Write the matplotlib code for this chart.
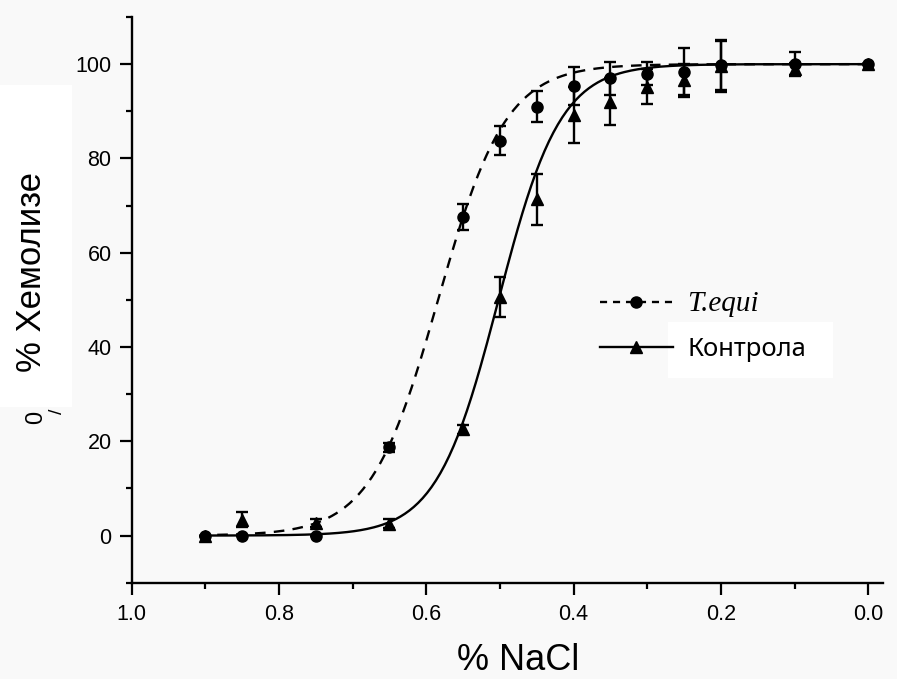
import numpy as np
import matplotlib
matplotlib.use("Agg")
import matplotlib.pyplot as plt
from matplotlib.lines import Line2D
from matplotlib.patches import Rectangle

plt.rcParams['font.family'] = ['Liberation Sans', 'DejaVu Sans']
plt.rcParams['xtick.labelsize'] = 15.5
plt.rcParams['ytick.labelsize'] = 15.5

# концентрация NaCl (%)
nacl = [0.9, 0.85, 0.75, 0.65, 0.55, 0.5, 0.45, 0.4, 0.35, 0.3, 0.25, 0.2, 0.1, 0.0]

# T.equi (кругови)
tequi = [0, 0, 0, 18.7, 67.6, 83.8, 91.0, 95.3, 97.0, 98.0, 98.4, 99.8, 100.0, 100.0]
tequi_err = [0, 0, 0, 1.0, 2.7, 3.0, 3.2, 4.0, 3.5, 2.5, 5.0, 5.2, 2.6, 0]

# Контрола (троуглови)
kontrola = [0, 3.4, 2.7, 2.5, 22.5, 50.6, 71.3, 89.2, 92.0, 95.2, 96.6, 99.6, 99.0, 100.0]
kontrola_err = [0, 1.5, 0.8, 1.0, 1.0, 4.2, 5.5, 6.0, 5.0, 3.7, 3.5, 5.5, 1.3, 0]

# Boltzmann fit parametri (A1, A2, x0, dx)
fit_tequi = (0.0, 100.0, 0.584, 0.046)
fit_kontrola = (0.0, 100.0, 0.502, 0.042)


def boltzmann(x, p):
    a1, a2, x0, dx = p
    return a2 + (a1 - a2) / (1 + np.exp((x0 - x) / dx))


bg = "#f9f9f9"
fig = plt.figure(figsize=(8.97, 6.79), dpi=100, facecolor=bg)
ax = fig.add_axes([131.7 / 897, 1 - 582.7 / 679, (883 - 131.7) / 897, (582.7 - 17) / 679])
ax.set_facecolor("none")
ax.set_zorder(1)

# bela polja (zalepljeni tekstovi)
fig.patches.append(Rectangle((0, 1 - 407 / 679), 72 / 897, 322 / 679,
                             transform=fig.transFigure, facecolor="white", edgecolor="none", zorder=-1))
fig.patches.append(Rectangle((668 / 897, 1 - 378 / 679), 165 / 897, 56 / 679,
                             transform=fig.transFigure, facecolor="white", edgecolor="none", zorder=-1))

xs = np.linspace(0.0, 0.9, 300)
ax.plot(xs, boltzmann(xs, fit_tequi), color="black", lw=1.7, ls=(0, (4.5, 3.5)))
ax.plot(xs, boltzmann(xs, fit_kontrola), color="black", lw=1.7)

ax.errorbar(nacl, tequi, yerr=tequi_err, fmt="o", color="black", ms=8,
            capsize=4.5, capthick=1.7, elinewidth=1.7)
ax.errorbar(nacl, kontrola, yerr=kontrola_err, fmt="^", color="black", ms=8,
            capsize=4.5, capthick=1.7, elinewidth=1.7)

ax.set_xlim(1.0, -0.02)
ax.set_ylim(-10, 110)
ax.set_xticks([1.0, 0.8, 0.6, 0.4, 0.2, 0.0])
ax.set_xticks([0.9, 0.7, 0.5, 0.3, 0.1], minor=True)
ax.set_yticks([0, 20, 40, 60, 80, 100])
ax.set_yticks([-10, 10, 30, 50, 70, 90, 110], minor=True)
ax.set_xticklabels(["1.0", "0.8", "0.6", "0.4", "0.2", "0.0"])

for s in ["top", "right"]:
    ax.spines[s].set_visible(False)
for s in ["left", "bottom"]:
    ax.spines[s].set_linewidth(1.7)

ax.tick_params(which="major", length=8.5, width=1.6, direction="out")
ax.tick_params(which="minor", length=4.5, width=1.6, direction="out")
ax.tick_params(axis="x", which="major", pad=7)
ax.tick_params(axis="y", which="major", pad=6)

fig.text(518 / 897, 1 - 661 / 679, "% NaCl", ha="center", va="center", fontsize=26)
fig.text(32 / 897, 1 - 272 / 679, "% Хемолизе", ha="center", va="center",
         rotation=90, fontsize=25)
fig.text(36 / 897, 1 - 417 / 679, "0", ha="center", va="center", rotation=90, fontsize=17)
fig.text(57 / 897, 1 - 411 / 679, "/", ha="center", va="center", rotation=90, fontsize=14)

handles = [
    Line2D([], [], color="black", lw=1.7, ls=(0, (3, 2.5)), marker="o", ms=8),
    Line2D([], [], color="black", lw=1.7, marker="^", ms=8),
]
leg = ax.legend(handles, ["T.equi", "Контрола"], loc="center left",
                bbox_to_anchor=(600 / 897, 1 - 326.5 / 679), bbox_transform=fig.transFigure,
                frameon=False, fontsize=18, handlelength=2.9, handletextpad=0.6,
                labelspacing=0.8, borderpad=0, borderaxespad=0)
t1, t2 = leg.get_texts()
t1.set_family("Liberation Serif")
t1.set_style("italic")
t1.set_fontsize(21)
t2.set_family("Noto Sans")
t2.set_fontsize(18.5)

fig.savefig("out.png", dpi=100, facecolor=bg)
